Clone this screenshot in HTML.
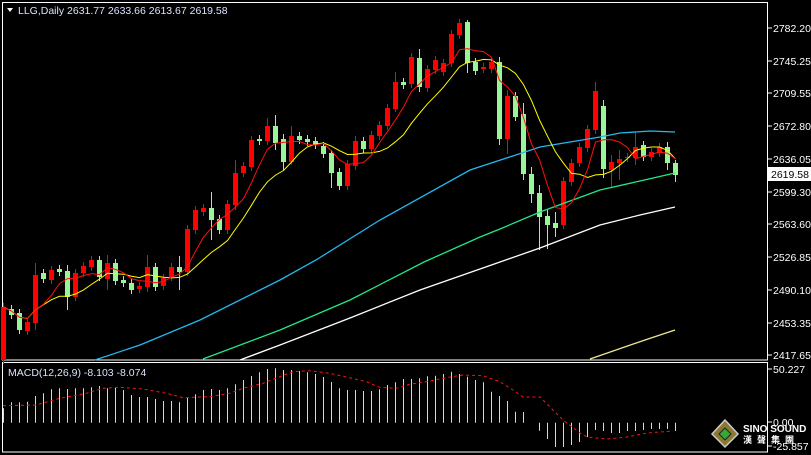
<!DOCTYPE html>
<html><head><meta charset="utf-8"><style>
html,body{margin:0;padding:0;background:#000;}
svg{display:block;font-family:"Liberation Sans",sans-serif;}
</style></head><body>
<svg id="s" width="811" height="455" xmlns="http://www.w3.org/2000/svg">
<rect x="0" y="0" width="811" height="455" fill="#000"/>
<rect x="2.5" y="2.5" width="765" height="357.5" fill="none" stroke="#fff" stroke-width="1"/>
<rect x="2.5" y="362.5" width="765" height="89.5" fill="none" stroke="#fff" stroke-width="1"/>
<polygon points="7,8 13,8 10,12" fill="#fff"/>
<text x="18" y="14" font-size="10.5" fill="#d8e4ff">LLG,Daily  2631.77 2633.66 2613.67 2619.58</text>
<text x="8" y="376" font-size="10.5" fill="#d8e4ff">MACD(12,26,9) -8.103 -8.074</text>
<g id="g"></g>
</svg>
<script>
const D=[["r",307,360],["g",309,315],["g",313,330],["r",322,331],["r",275,323],["g",273,279],["r",270,280],["g",269,272],["g",271,297],["r",273,297],["r",266,273],["r",260,267],["g",260,277],["r",263,279],["g",263,281],["g",280,283],["g",283,290],["r",286,289],["r",267,287],["g",267,287],["r",278,286],["r",267,277],["g",267,272],["r",229,272],["r",210,230],["r",208,212],["g",208,220],["g",219,230],["r",204,230],["r",173,205],["r",166,173],["r",140,167],["g",139,141],["r",126,141],["g",126,143],["g",139,162],["r",136,162],["g",136,140],["g",139,142],["g",141,145],["g",146,154],["g",153,173],["g",172,186],["r",164,186],["r",141,166],["g",141,149],["r",135,149],["r",125,136],["r",108,126],["r",82,109],["g",82,85],["r",57,84],["g",58,87],["r",69,88],["r",60,70],["r",63,72],["r",34,63],["r",23,35],["g",22,63],["g",62,71],["r",67,69],["r",62,69],["g",62,139],["r",96,139],["g",96,117],["g",114,174],["g",174,194],["g",193,217],["g",216,225],["g",223,228],["r",181,225],["r",163,182],["r",147,163],["r",129,148],["r",91,130],["g",106,169],["r",162,170],["r",159,163],["r",157,158],["r",147,158],["g",145,157],["r",152,157],["r",147,153],["g",147,163],["g",163,175]];
const W={4:[263,330],8:[265,310],13:[255,290],18:[255,292],22:[256,290],26:[192,240],29:[160,210],33:[118,145],34:[115,150],35:[134,170],36:[126,165],41:[150,188],44:[136,170],49:[72,112],52:[49,92],58:[20,73],62:[57,145],63:[90,154],65:[103,180],66:[167,203],67:[185,250],68:[210,249],69:[212,237],74:[82,134],75:[100,178],76:[155,188],77:[150,180],79:[132,165],83:[142,170],84:[160,182]};
let h='';
const X=i=>3+8*i, C=[];
D.forEach((d,i)=>{const[t,a,b]=d;const col=t=="r"?"#ff0000":"#98f598";
 const w=W[i]||[a-4,b+4];const x=X(i);
 h+=`<line x1="${x+0.5}" y1="${w[0]}" x2="${x+0.5}" y2="${w[1]}" stroke="${col}"/>`;
 h+=`<rect x="${x-2}" y="${a}" width="5" height="${Math.max(1,b-a)}" fill="${col}"/>`;
 C.push(t=="r"?a:b);});
function sma(n,col){let p=[];for(let i=0;i<C.length;i++){let s=0,k=0;for(let j=Math.max(0,i-n+1);j<=i;j++){s+=C[j];k++;}p.push(X(i)+0.5+','+(s/k).toFixed(1));}
 h+=`<polyline points="${p.join(' ')}" fill="none" stroke="${col}" stroke-width="1"/>`;}
function pl(p,col){h+=`<polyline points="${p}" fill="none" stroke="${col}" stroke-width="1.3"/>`;}
pl("95,360 140,345 200,320 280,280 316,260 380,220 470,170 540,147 600,137 620,133 650,131 675,132","#22b8f0");
pl("203,359 280,330 350,300 424,262 480,237 500,229 540,212 600,190 640,181 675,173","#20e888");
pl("240,360 280,345 350,318 420,290 500,262 540,248 600,225 640,215 675,207","#ffffff");
pl("590,359 645,340 675,330","#f0e890");
sma(10,"#ffff00");sma(5,"#ff1010");
// MACD
const tops=[160,142,142,140,123,115,103,100,102,100,100,97,93,100,98,105,120,126,126,132,138,138,142,128,118,105,102,105,100,88,75,63,52,42,40,45,45,48,52,57,66,81,100,105,105,108,108,103,90,82,72,72,70,64,62,57,50,57,65,75,82,110,123,138,170,199,170,201];
const Z=422.7;
tops.forEach((t,i)=>{if(i>64)return;const y=355+t/3;h+=`<line x1="${X(i)+0.5}" y1="${y.toFixed(1)}" x2="${X(i)+0.5}" y2="${Z}" stroke="#d8d8d8"/>`;});
h+=`<line x1="${X(65)+0.5}" y1="412" x2="${X(65)+0.5}" y2="${Z}" stroke="#d8d8d8"/>`;
const neg=[430.7,439,447,447,445,442,437,430,431,433,433,431,431,430,429,429,429,431];
neg.forEach((b,k)=>{const x=X(67+k)+0.5;h+=`<line x1="${x}" y1="${Z}" x2="${x}" y2="${b}" stroke="#d8d8d8"/>`;});
const sg=[[0,152],[100,150],[170,130],[250,115],[300,100],[350,97],[420,102],[490,115],[540,128],[620,125],[680,115],[720,100],[780,85],[830,65],[870,50],[920,47],[980,55],[1040,68],[1090,80],[1130,97],[1180,100],[1220,88],[1270,80],[1330,68],[1380,60],[1440,62],[1490,80],[1530,105],[1560,126]].map(p=>(p[0]/3+3).toFixed(1)+','+(355+p[1]/3).toFixed(1));
sg.push("540,397","563,420","580,433","587,437","607,439","627,437","647,433","673,431");
h+=`<polyline points="${sg.join(' ')}" fill="none" stroke="#ff1010" stroke-width="1" stroke-dasharray="3,3"/>`;
// axis
const L=[[28,"2782.20"],[61,"2745.25"],[93,"2709.55"],[126,"2672.80"],[159,"2636.05"],[192,"2599.30"],[224,"2563.60"],[257,"2526.85"],[290,"2490.10"],[323,"2453.35"],[355,"2417.65"]];
L.forEach(l=>{h+=`<line x1="768" y1="${l[0]}" x2="772" y2="${l[0]}" stroke="#fff"/><text x="773" y="${l[0]+4}" font-size="10.5" fill="#fff">${l[1]}</text>`;});
h+=`<rect x="768" y="167" width="43" height="14" fill="#fff"/><text x="771" y="178" font-size="10.5" fill="#000">2619.58</text>`;
[[369,"50.227"],[422,"0.00"],[446,"-25.857"]].forEach(l=>{h+=`<line x1="768" y1="${l[0]}" x2="772" y2="${l[0]}" stroke="#fff"/><text x="773" y="${l[0]+4}" font-size="10.5" fill="#fff">${l[1]}</text>`;});
// logo
h+=`<polygon points="725,420 738,434 725,447 712,434" fill="#8a7a30" stroke="#ccc" stroke-width="1.5"/><polygon points="725,428 731,434 725,440 719,434" fill="#3a3" stroke="#222"/>`;
h+=`<text x="743" y="432" font-size="10" font-weight="bold" fill="#fff">SINO SOUND</text><text x="743" y="443" font-size="9" font-weight="bold" fill="#fff" font-family="'Noto Sans CJK TC',sans-serif" letter-spacing="5">漢聲集團</text>`;
document.getElementById('g').innerHTML=h;
</script>
</body></html>
